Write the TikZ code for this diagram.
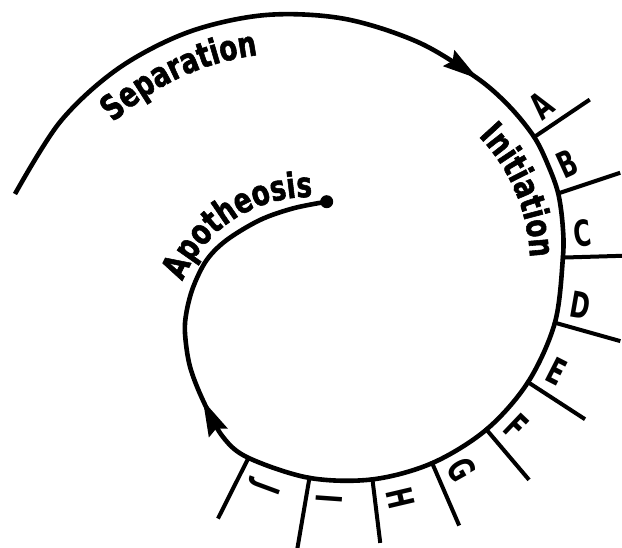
\documentclass[tikz,border=0pt]{standalone}
\usepackage{fontspec}
\usetikzlibrary{calc,decorations.text}
\newfontfamily\wordfont{DejaVu Sans}[FakeStretch=0.75,FakeBold=1.6]
\newfontfamily\tickfont{DejaVu Sans}[FakeStretch=0.66]
\begin{document}
\begin{tikzpicture}[x=1pt,y=1pt,
  curve/.style={line width=4.6pt},
  tickline/.style={line width=4pt},
  letter/.style={font=\tickfont\bfseries\fontsize{36}{36}\selectfont, inner sep=0pt},
  wordpath/.style={decorate, decoration={text along path, text align=center,
    text={|\wordfont\bfseries\fontsize{35}{35}\selectfont|#1}}}]
\useasboundingbox (0,0) rectangle (622,547);
\fill[white] (0,0) rectangle (622,547);
\clip (0,0) rectangle (622,547);
\coordinate (B) at (291,232);
\coordinate (M) at (346,283);
\coordinate (Sc) at (309,213);
% spiral
\draw[curve] plot[smooth, tension=0.55] coordinates {(15,353) (60.4,425.5) (118.4,478.6) (188.1,514.8) (264.8,531.9) (343.3,528.4) (418.2,504.8) (477.1,468.9) (509.3,440.7) (534.2,409.9) (548.2,381.6) (558.2,353.6) (562.7,321.2) (562.9,289.4) (554.9,224.3) (528,164.8) (486.4,117.4) (432.2,83.9) (372.4,67.6) (309.4,69.1) (248.5,89.1) (223,110) (203.5,145.5) (190,180.3) (185,213.7) (186.5,235) (193.3,260.3) (206.7,287) (226.7,307) (260,327) (293.3,338.7) (326.7,345.3)};
\coordinate (dot) at (326.7,345.3);
\fill (dot) circle[radius=6.5pt];
% arrowheads
\coordinate (a1s) at (457.4,482.8); \coordinate (a1t) at (478,468.3);
\coordinate (a1b) at ($(a1t)!36pt!(a1s)$);
\coordinate (a1n) at ($(a1t)!31pt!(a1s)$);
\coordinate (a1l) at ($(a1b)!10pt!90:(a1t)$);
\coordinate (a1r) at ($(a1b)!10pt!-90:(a1t)$);
\fill (a1t) -- (a1l) -- (a1n) -- (a1r) -- cycle;
\coordinate (a2s) at (213.7,123.8); \coordinate (a2t) at (203,146.5);
\coordinate (a2b) at ($(a2t)!36pt!(a2s)$);
\coordinate (a2n) at ($(a2t)!31pt!(a2s)$);
\coordinate (a2l) at ($(a2b)!10.5pt!90:(a2t)$);
\coordinate (a2r) at ($(a2b)!10.5pt!-90:(a2t)$);
\fill (a2t) -- (a2l) -- (a2n) -- (a2r) -- cycle;
% ticks
\foreach \n/\a/\ri/\ro in {A/34/225/294, B/18.4/222/289, C/1.7/215/290, D/-15.7/215/285, E/-33/215/285, F/-49.7/215/283, G/-66.6/215/285, H/-83/215/281, I/-99.7/215/290, J/-116.7/216/285} {
  \coordinate (t\n in) at ([shift={(\a:\ri pt)}]M);
  \coordinate (t\n out) at ([shift={(\a:\ro pt)}]M);
  \draw[tickline] (t\n in) -- (t\n out);
}
% letters
\foreach \n/\a/\r in {A/39/251.7, B/24.5/242.8, C/7.4/238, D/-9.9/237.6, E/-27/236, F/-43.6/235.7, G/-60.7/236.3, H/-76.8/240.6, I/-94.1/235.6, J/-110.3/237.5}
  \node[letter, rotate=\a] (l\n) at ([shift={(\a:\r pt)}]M) {\n};
% words
\path[wordpath=Separation]
  ([shift={(145:262pt)}]B) arc[start angle=145, end angle=85, radius=262pt];
\path[wordpath=Initiation]
  ([shift={(53:184pt)}]M) arc[start angle=53, end angle=-7, radius=184pt];
\path[wordpath=Apotheosis]
  ([shift={(161:137pt)}]Sc) arc[start angle=161, end angle=85, radius=137pt];
\end{tikzpicture}
\end{document}
